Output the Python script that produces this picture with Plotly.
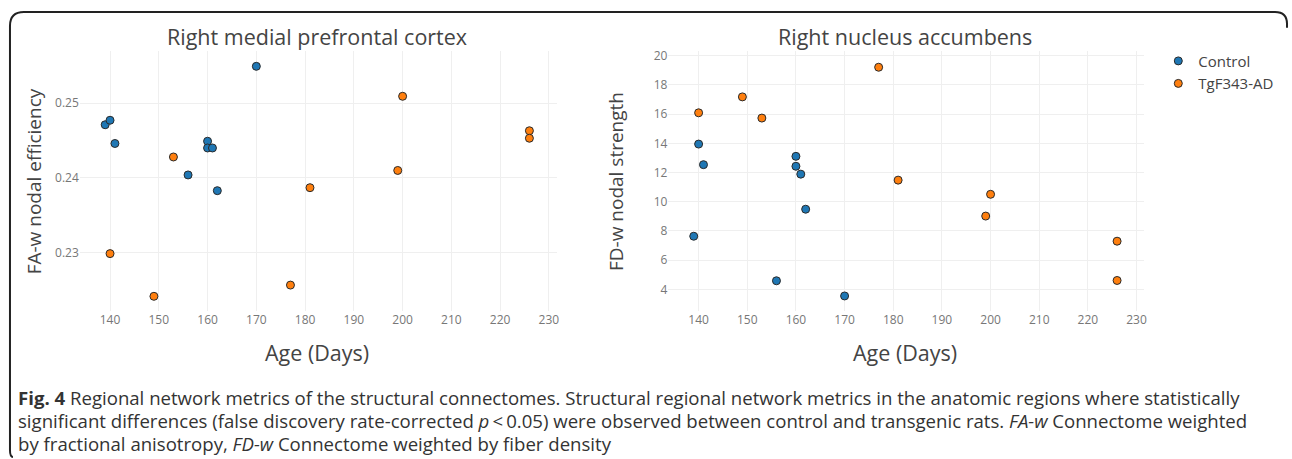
import plotly.graph_objects as go

W, H = 1292, 459

# ---- data ----
ctrl_age = [139, 140, 141, 156, 160, 160, 161, 162, 170]
ctrl_fa_eff = [0.2471, 0.2477, 0.2446, 0.2404, 0.2449, 0.2440, 0.2440, 0.2383, 0.2549]
ctrl_fd_str = [7.64, 13.95, 12.54, 4.59, 13.11, 12.43, 11.89, 9.49, 3.55]

tg_age = [140, 149, 153, 177, 181, 199, 200, 226, 226]
tg_fa_eff = [0.2299, 0.2242, 0.2428, 0.2257, 0.2387, 0.2410, 0.2509, 0.2463, 0.2453]
tg_fd_str = [16.09, 17.18, 15.73, 19.21, 11.48, 9.02, 10.51, 7.30, 4.61]

groups = ["Control", "TgF343-AD"]
colors = ["#1f77b4", "#ff7f0e"]
titles = ["Right medial prefrontal cortex", "Right nucleus accumbens"]
ytitles = ["FA-w nodal efficiency", "FD-w nodal strength"]
xtitle = "Age (Days)"
caption_lines = [
    "<b>Fig. 4</b> Regional network metrics of the structural connectomes. Structural regional network metrics in the anatomic regions where statistically",
    "significant differences (false discovery rate-corrected <i>p</i>\u2009<\u20090.05) were observed between control and transgenic rats. <i>FA-w</i> Connectome weighted",
    "by fractional anisotropy, <i>FD-w</i> Connectome weighted by fiber density",
]

OPEN = '"Open Sans", verdana, arial, sans-serif'

def px(x):
    return x / W

def py(y):
    return 1 - y / H

fig = go.Figure()
marker_line = dict(color="#2a2a2a", width=1)
for i, (ages, eff, st) in enumerate([(ctrl_age, ctrl_fa_eff, ctrl_fd_str), (tg_age, tg_fa_eff, tg_fd_str)]):
    fig.add_trace(go.Scatter(x=ages, y=eff, mode="markers", name=groups[i], legendgroup=groups[i],
                             marker=dict(color=colors[i], size=8, line=marker_line),
                             xaxis="x", yaxis="y", showlegend=True))
    fig.add_trace(go.Scatter(x=ages, y=st, mode="markers", name=groups[i], legendgroup=groups[i],
                             marker=dict(color=colors[i], size=8, line=marker_line),
                             xaxis="x2", yaxis="y2", showlegend=False))

tickfont = dict(family=OPEN, size=12, color="#777")
grid = "#efefef"
common_x = dict(range=[133.8, 231.6], dtick=10, tick0=140, showgrid=True, gridcolor=grid,
                zeroline=False, showline=False, ticks="", tickfont=tickfont)
fig.update_layout(
    width=W, height=H, margin=dict(l=0, r=0, t=0, b=0),
    paper_bgcolor="white", plot_bgcolor="white",
    font=dict(family=OPEN, color="#444"),
    xaxis=dict(domain=[px(80), px(558)], anchor="y", **common_x),
    yaxis=dict(domain=[py(310), py(47)], anchor="x", range=[0.2222, 0.2570], dtick=0.01, tick0=0.23,
               tickformat=".2f", showgrid=True, gridcolor=grid, zeroline=False, showline=False,
               ticks="", tickfont=tickfont),
    xaxis2=dict(domain=[px(670), px(1147)], anchor="y2", **common_x),
    yaxis2=dict(domain=[py(310), py(47)], anchor="x2", range=[2.5, 20.35], dtick=2, tick0=4,
                showgrid=True, gridcolor=grid, zeroline=False, showline=False,
                ticks="", tickfont=tickfont),
    legend=dict(x=px(1161), y=py(41), xanchor="left", yanchor="top",
                font=dict(family=OPEN, size=15, color="#444"), bgcolor="rgba(0,0,0,0)",
                tracegroupgap=0, itemwidth=30),
)

ann = []
for cx, t in zip([318, 907], titles):
    ann.append(dict(x=px(cx), y=py(33), xref="paper", yref="paper", text=t, showarrow=False,
                    font=dict(family=OPEN, size=21.5, color="#444"), xanchor="center", yanchor="middle"))
    ann.append(dict(x=px(cx), y=py(352), xref="paper", yref="paper", text=xtitle, showarrow=False,
                    font=dict(family=OPEN, size=21.5, color="#444"), xanchor="center", yanchor="middle"))
for cx, t in zip([35, 618], ytitles):
    ann.append(dict(x=px(cx), y=py(179), xref="paper", yref="paper", text=t, showarrow=False,
                    textangle=-90, font=dict(family=OPEN, size=19, color="#444"),
                    xanchor="center", yanchor="middle"))
for k, line in enumerate(caption_lines):
    ann.append(dict(x=px(16), y=py(397 + 23 * k), xref="paper", yref="paper", text=line,
                    showarrow=False, align="left", xanchor="left", yanchor="middle",
                    font=dict(family=OPEN, size=18.6, color="#333")))
fig.update_layout(annotations=ann)

border = (f"M {px(13)} {py(457)} Q {px(10)} {py(457)} {px(10)} {py(450)} "
          f"L {px(10)} {py(22)} Q {px(10)} {py(8)} {px(24)} {py(8)} "
          f"L {px(1278)} {py(8)} Q {px(1290)} {py(8)} {px(1290)} {py(20)} L {px(1290)} {py(24)}")
fig.add_shape(type="path", path=border, xref="paper", yref="paper",
              line=dict(color="#222", width=2))

fig.write_html("out.html")
